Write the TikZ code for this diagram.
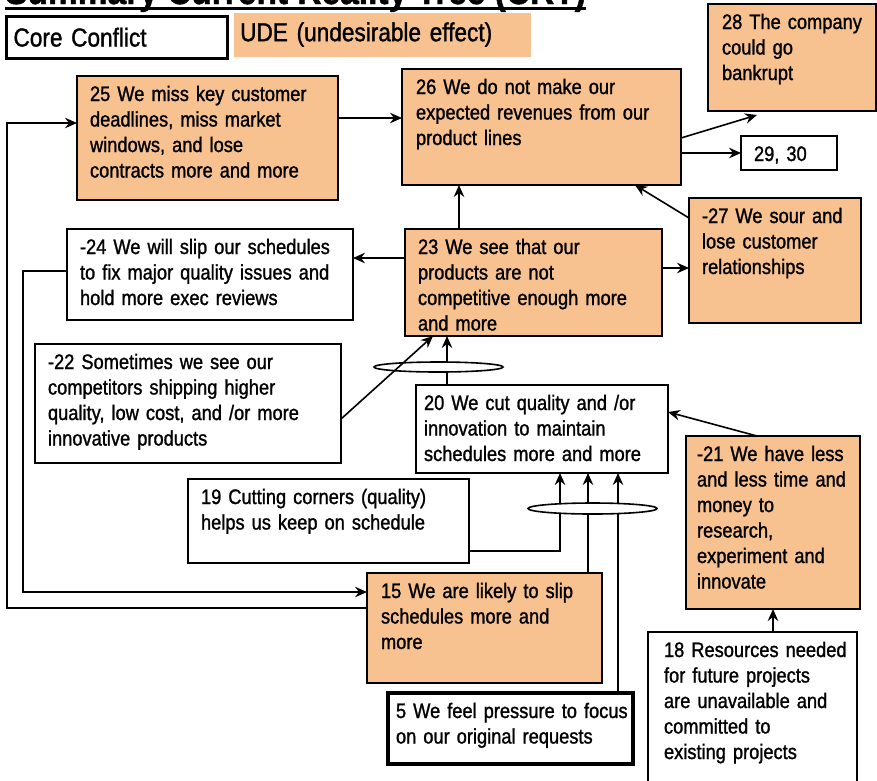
\documentclass[tikz,border=0pt]{standalone}
\usepackage{fontspec}
\setmainfont[FakeStretch=0.87,FakeBold=1.2]{Liberation Sans}
\usetikzlibrary{arrows.meta,shapes.geometric,backgrounds}
\definecolor{udefill}{RGB}{248,193,144}

\tikzset{
  crt/.style={draw, line width=1.6pt, fill=white, anchor=north west, inner ysep=0pt,
    outer sep=0pt, align=left, font=\fontsize{21}{25.5}\selectfont, text height=25pt},
  ude/.style={fill=udefill},
  heavy/.style={line width=3.5pt},
  link/.style={line width=1.6pt},
  arr/.style={link, -{Stealth[length=12pt,width=10.5pt,inset=4pt]}},
  andjoin/.style={ellipse, draw, line width=1.6pt, fill=white, minimum width=129pt,
    minimum height=10pt, inner sep=0pt},
}

% box: [style]{name}{left}{top}{width}{height}{side padding}{lines}
\newcommand\crtbox[8][]{%
  \pgfmathsetmacro\crtTW{#5-2*#7}%
  \pgfmathsetmacro\crtTD{#6-25}%
  \node[crt,inner xsep=#7pt,text width=\crtTW pt,text depth=\crtTD pt,#1] (#2) at (#3,#4)
    {\begin{tabular}[t]{@{}l@{}}#8\end{tabular}};}

\begin{document}
\begin{tikzpicture}[x=1pt,y=-1pt]
\useasboundingbox (0,0) rectangle (877,780);
\begin{pgfonlayer}{background}
  \fill[white] (0,0) rectangle (877,780);
\end{pgfonlayer}

% heading and key
\node[anchor=base west, inner sep=0pt, font=\bfseries\fontsize{38.5}{40}\selectfont] (title) at (5,4)
  {Summary Current Reality Tree (CRT)};
\draw[line width=3pt] ([yshift=-4.5pt]title.base west) -- ([yshift=-4.5pt]title.base east);

\node[draw, line width=3pt, fill=white, anchor=north west, inner xsep=7pt, inner ysep=0pt,
  text width=207pt, text height=30pt, text depth=12pt, align=left,
  font=\fontsize{26}{30}\selectfont] (corekey) at (5,15) {Core Conflict};
\node[fill=udefill, anchor=north west, inner xsep=6pt, inner ysep=0pt,
  text width=285pt, text height=28pt, text depth=16pt, align=left,
  font=\fontsize{26}{30}\selectfont] (udekey) at (234,13) {UDE (undesirable effect)};

% statements
\crtbox[ude]{n28}{708}{4}{168}{107}{14}{28 The company\\could go\\bankrupt}
\crtbox[ude]{n26}{402}{69}{279}{116}{14}{26 We do not make our\\expected revenues from our\\product lines}
\crtbox[ude]{n25}{77}{76}{261}{124}{13}{25 We miss key customer\\deadlines, miss market\\windows, and lose\\contracts more and more}
\crtbox{n2930}{741}{136}{96}{34}{13}{29, 30}
\crtbox{n24}{67}{229}{286}{91}{13}{-24 We will slip our schedules\\to fix major quality issues and\\hold more exec reviews}
\crtbox[ude]{n23}{405}{229}{257}{107}{13}{23 We see that our\\products are not\\competitive enough more\\and more}
\crtbox[ude]{n27}{689}{198}{172}{125}{13}{-27 We sour and\\lose customer\\relationships}
\crtbox{n22}{35}{344}{306}{119}{13}{-22 Sometimes we see our\\competitors shipping higher\\quality, low cost, and /or more\\innovative products}
\crtbox{n20}{416}{385}{252}{88}{8}{20 We cut quality and /or\\innovation to maintain\\schedules more and more}
\crtbox[ude]{n21}{686}{436}{174}{173}{11}{-21 We have less\\and less time and\\money to\\research,\\experiment and\\innovate}
\crtbox{n19}{188}{479}{281}{84}{13}{19 Cutting corners (quality)\\helps us keep on schedule}
\crtbox[ude]{n15}{367}{573}{235}{110}{14}{15 We are likely to slip\\schedules more and\\more}
\crtbox[heavy]{n5}{388}{693}{245}{71}{8}{5 We feel pressure to focus\\on our original requests}
\crtbox{n18}{648}{632}{209}{160}{16}{18 Resources needed\\for future projects\\are unavailable and\\committed to\\existing projects}

% "and" junctions
\node[andjoin] (e1) at (438.5,367) {};
\node[andjoin, minimum height=11pt] (e2) at (592.5,508.5) {};

\coordinate (t28) at (757,115);

% cause-effect links, behind the boxes and junctions
\begin{pgfonlayer}{background}
  \draw[arr] (n25.east |- 0,118) -- (n26.west |- 0,118);
  \draw[arr] (n26.east |- 0,138) -- (t28);
  \draw[arr] (n26.east |- n2930.west) -- (n2930.west);
  \draw[arr] (n23.north -| 459,0) -- (n26.south -| 459,0);
  \draw[arr] (n27.west |- 0,218) -- (n26.south -| 635,0);
  \draw[arr] (n23.east |- 0,268) -- (n27.west |- 0,268);
  \draw[arr] (n23.west |- 0,258) -- (n24.east |- 0,258);
  \draw[arr] (n20.north -| 447,0) -- (e1.center -| 447,0) -- (n23.south -| 447,0);
  \draw[arr] (n21.north -| 757,0) -- (n20.east |- 0,412);
  \draw[arr] (n19.east |- 0,551) -| (e2.center -| 560,0) -- (n20.south -| 560,0);
  \draw[arr] (n15.north -| 588,0) -- (e2.center -| 588,0) -- (n20.south -| 588,0);
  \draw[arr] (n5.north -| 618,0) -- (e2.center -| 618,0) -- (n20.south -| 618,0);
  \draw[arr] (n18.north -| 773,0) -- (n21.south -| 773,0);
  \draw[arr] (n24.west |- 0,271) -- (23,271) |- (n15.west |- 0,592);
  \draw[arr] (n15.west |- 0,608) -- (7,608) |- (n25.west |- 0,123);
\end{pgfonlayer}

\draw[arr] (n22.east |- 0,419) -- (n23.south -| 433,0);
\end{tikzpicture}
\end{document}
